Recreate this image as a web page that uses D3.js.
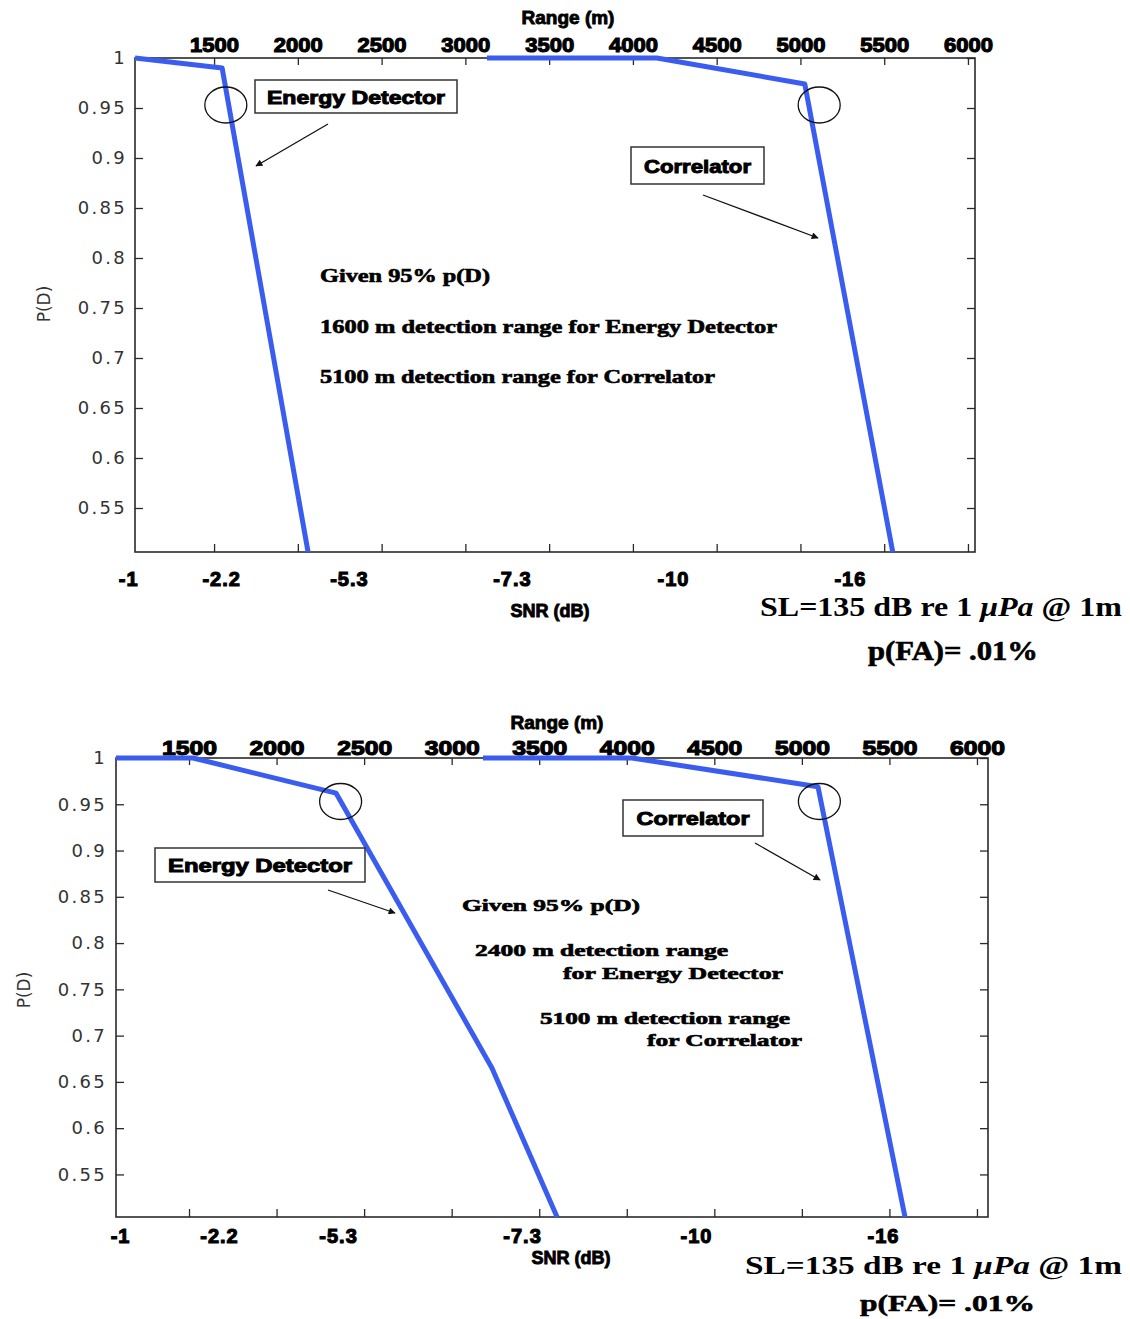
<!DOCTYPE html>
<html>
<head>
<meta charset="utf-8">
<script src="https://cdn.jsdelivr.net/npm/d3@7"></script>
<style>
  body { margin: 0; background: #fff; }
  svg { display: block; }
</style>
</head>
<body>
<svg id="chart" width="1130" height="1319"></svg>
<script>
// ---- shared tick values ----
const rangeTicks = [1500, 2000, 2500, 3000, 3500, 4000, 4500, 5000, 5500, 6000];
const pdTicks = [0.55, 0.6, 0.65, 0.7, 0.75, 0.8, 0.85, 0.9, 0.95, 1];
const snrTickLabels = ["-1", "-2.2", "-5.3", "-7.3", "-10", "-16"];

// ---- upper panel ----
// range (m) at which each SNR label applies
const p1SnrRange = [987, 1542, 2305, 3278, 4239, 5295];
const p1EnergyRange = [1028, 1548, 2061];
const p1EnergyPD = [1, 0.99, 0.506];
const p1CorrRange = [3129, 4143, 5026, 5551];
const p1CorrPD = [1, 1, 0.974, 0.506];
// detection range at 95% p(D): [energy detector, correlator]
const p1DetRange = [1600, 5100];

// ---- lower panel ----
const p2SnrRange = [1106, 1671, 2351, 3402, 4395, 5463];
const p2EnergyRange = [1083, 1523, 2340, 3230, 3602];
const p2EnergyPD = [1, 1, 0.962, 0.665, 0.504];
const p2CorrRange = [3179, 4030, 5092, 5589];
const p2CorrPD = [1, 1, 0.969, 0.504];
const p2DetRange = [2400, 5100];

const BLUE = "#3a5df0";
const AXIS = "#2a2a2a";
const HEAVY = "'Liberation Sans', Arial, sans-serif";
const SERIF = "'Liberation Serif', 'Times New Roman', serif";

const svg = d3.select("#chart");

// arrow head marker
svg.append("defs").append("marker")
  .attr("id", "arrow")
  .attr("viewBox", "0 0 10 10")
  .attr("refX", 9).attr("refY", 5)
  .attr("markerWidth", 9).attr("markerHeight", 7)
  .attr("markerUnits", "userSpaceOnUse")
  .attr("orient", "auto")
  .append("path").attr("d", "M0,0 L10,5 L0,10 Z").attr("fill", "#111");

function heavyText(sel, size, sw = 0.9) {
  return sel.attr("font-family", HEAVY).attr("font-weight", "bold")
    .attr("font-size", size).attr("fill", "#000")
    .attr("stroke", "#000").attr("stroke-width", sw);
}

function serifText(g, str, xPos, yPos, size, len) {
  const t = g.append("text").attr("x", xPos).attr("y", yPos)
    .attr("font-family", SERIF).attr("font-weight", "bold")
    .attr("font-size", size).attr("fill", "#000")
    .attr("stroke", "#000").attr("stroke-width", 0.6)
    .text(str);
  if (len) t.attr("textLength", len).attr("lengthAdjust", "spacingAndGlyphs");
  return t;
}

function drawPanel(cfg) {
  const x = d3.scaleLinear().domain(cfg.xDomain).range([cfg.left, cfg.right]);
  const y = d3.scaleLinear().domain(cfg.yDomain).range([cfg.bottom, cfg.top]);
  const g = svg.append("g");

  const styleTicks = s => {
    s.select(".domain").remove();
    s.selectAll(".tick line").attr("stroke", AXIS).attr("stroke-width", 1.3);
  };

  // P(D) axis, left with labels, right with ticks only
  g.append("g").attr("transform", `translate(${cfg.left},0)`)
    .call(d3.axisLeft(y).tickValues(pdTicks).tickSize(-8).tickPadding(cfg.yPad)
      .tickFormat(d => String(d)))
    .call(styleTicks)
    .call(s => s.selectAll("text")
      .attr("font-family", "'DejaVu Sans', sans-serif").attr("font-size", 18)
      .attr("fill", "#333").attr("letter-spacing", 2.3));

  g.append("g").attr("transform", `translate(${cfg.right},0)`)
    .call(d3.axisRight(y).tickValues(pdTicks).tickSize(-8).tickFormat(""))
    .call(styleTicks);

  // Range axis on top
  g.append("g").attr("transform", `translate(0,${cfg.top})`)
    .call(d3.axisTop(x).tickValues(rangeTicks).tickSize(-7).tickPadding(cfg.topPad)
      .tickFormat(d3.format("d")))
    .call(styleTicks)
    .call(s => heavyText(s.selectAll("text"), 20, 1.1)
      .attr("textLength", cfg.tickLen).attr("lengthAdjust", "spacingAndGlyphs"));

  // tick marks along the bottom edge
  g.append("g").attr("transform", `translate(0,${cfg.bottom})`)
    .call(d3.axisBottom(x).tickValues(rangeTicks).tickSize(-8).tickFormat(""))
    .call(styleTicks);

  // SNR labels placed at the range where each value holds
  g.append("g").attr("transform", `translate(0,${cfg.bottom})`)
    .call(d3.axisBottom(x).tickValues(cfg.snrRange).tickSize(0).tickPadding(cfg.snrPad)
      .tickFormat((d, i) => snrTickLabels[i]))
    .call(s => s.select(".domain").remove())
    .call(s => heavyText(s.selectAll("text"), 20, 1.1).attr("letter-spacing", 1));

  // plot frame
  g.append("rect")
    .attr("x", cfg.left).attr("y", cfg.top)
    .attr("width", cfg.right - cfg.left).attr("height", cfg.bottom - cfg.top)
    .attr("fill", "none").attr("stroke", AXIS).attr("stroke-width", 1.6);

  // curves
  const line = d3.line().x(d => x(d[0])).y(d => y(d[1]));
  g.append("path").datum(d3.zip(cfg.energyRange, cfg.energyPD))
    .attr("d", line).attr("fill", "none").attr("stroke", BLUE)
    .attr("stroke-width", 5).attr("stroke-linejoin", "round");
  g.append("path").datum(d3.zip(cfg.corrRange, cfg.corrPD))
    .attr("d", line).attr("fill", "none").attr("stroke", BLUE)
    .attr("stroke-width", 5).attr("stroke-linejoin", "round");

  // circles at the 95% p(D) detection ranges
  g.selectAll("ellipse.det").data(cfg.detRange).join("ellipse")
    .attr("class", "det")
    .attr("cx", (d, i) => x(d) + cfg.circleShift[i]).attr("cy", y(0.953))
    .attr("rx", 21).attr("ry", 18)
    .attr("fill", "none").attr("stroke", "#111").attr("stroke-width", 1.3);

  // axis titles
  heavyText(g.append("text"), 19)
    .attr("x", cfg.rangeTitle[0]).attr("y", cfg.rangeTitle[1])
    .attr("text-anchor", "middle").text("Range (m)");
  heavyText(g.append("text"), 18)
    .attr("x", cfg.snrTitle[0]).attr("y", cfg.snrTitle[1])
    .attr("text-anchor", "middle").text("SNR (dB)");
  g.append("text")
    .attr("transform", `translate(${cfg.pdTitle[0]},${cfg.pdTitle[1]}) rotate(-90)`)
    .attr("text-anchor", "middle")
    .attr("font-family", "'DejaVu Sans', sans-serif").attr("font-size", 17)
    .attr("fill", "#333").text("P(D)");

  // labelled boxes with arrows
  cfg.boxes.forEach(b => {
    g.append("rect").attr("x", b.x).attr("y", b.y).attr("width", b.w).attr("height", b.h)
      .attr("fill", "#fff").attr("stroke", "#333").attr("stroke-width", 1.5);
    heavyText(g.append("text"), 19, 1)
      .attr("x", b.x + b.w / 2).attr("y", b.y + b.h / 2 + 7)
      .attr("text-anchor", "middle")
      .attr("textLength", b.tl).attr("lengthAdjust", "spacingAndGlyphs")
      .text(b.label);
    g.append("line")
      .attr("x1", b.arrow[0]).attr("y1", b.arrow[1])
      .attr("x2", b.arrow[2]).attr("y2", b.arrow[3])
      .attr("stroke", "#111").attr("stroke-width", 1.3)
      .attr("marker-end", "url(#arrow)");
  });

  // notes inside the plot
  cfg.notes.forEach(n => serifText(g, n.text, n.x, n.y, n.size, n.len));

  // source level / false alarm text
  const sl = g.append("text")
    .attr("x", cfg.sl.x).attr("y", cfg.sl.y)
    .attr("font-family", SERIF).attr("font-weight", "bold")
    .attr("font-size", cfg.sl.size).attr("fill", "#000")
    .attr("textLength", cfg.sl.len).attr("lengthAdjust", "spacingAndGlyphs");
  sl.append("tspan").text(cfg.sl.pre);
  sl.append("tspan").attr("font-style", "italic").text("\u03BCPa");
  sl.append("tspan").text(" @ 1m");
  serifText(g, "p(FA)= .01%", cfg.fa.x, cfg.fa.y, cfg.fa.size, cfg.fa.len);
}

// upper panel
drawPanel({
  left: 135, right: 975, top: 58, bottom: 552,
  xDomain: [1028, 6042], yDomain: [0.506, 1],
  yPad: 8, topPad: 6, snrPad: 20, tickLen: 49,
  snrRange: p1SnrRange,
  energyRange: p1EnergyRange, energyPD: p1EnergyPD,
  corrRange: p1CorrRange, corrPD: p1CorrPD,
  detRange: p1DetRange, circleShift: [-5, 2],
  rangeTitle: [568, 24], snrTitle: [550, 617], pdTitle: [50, 304],
  boxes: [
    { x: 255, y: 80, w: 202, h: 33, label: "Energy Detector", tl: 178, arrow: [328, 124, 256, 166] },
    { x: 631, y: 147, w: 133, h: 37, label: "Correlator", tl: 107, arrow: [703, 195, 818, 238] }
  ],
  notes: [
    { text: "Given 95% p(D)", x: 320, y: 282, size: 18, len: 170 },
    { text: `${p1DetRange[0]} m detection range for Energy Detector`, x: 320, y: 333, size: 18, len: 457 },
    { text: `${p1DetRange[1]} m detection range for Correlator`, x: 320, y: 383, size: 18, len: 395 }
  ],
  sl: { x: 760, y: 616, size: 27, len: 362, pre: "SL=135 dB re 1 " },
  fa: { x: 868, y: 660, size: 27, len: 170 }
});

// lower panel
drawPanel({
  left: 116, right: 988, top: 758, bottom: 1217,
  xDomain: [1083, 6063], yDomain: [0.504, 1],
  yPad: 9, topPad: 3, snrPad: 12, tickLen: 55,
  snrRange: p2SnrRange,
  energyRange: p2EnergyRange, energyPD: p2EnergyPD,
  corrRange: p2CorrRange, corrPD: p2CorrPD,
  detRange: p2DetRange, circleShift: [-6, 0],
  rangeTitle: [557, 729], snrTitle: [571, 1264], pdTitle: [30, 990],
  boxes: [
    { x: 155, y: 848, w: 210, h: 34, label: "Energy Detector", tl: 184, arrow: [328, 890, 395, 913] },
    { x: 623, y: 800, w: 140, h: 36, label: "Correlator", tl: 113, arrow: [755, 843, 820, 880] }
  ],
  notes: [
    { text: "Given 95% p(D)", x: 462, y: 911, size: 16, len: 178 },
    { text: `${p2DetRange[0]} m detection range`, x: 475, y: 956, size: 16, len: 253 },
    { text: "for Energy Detector", x: 563, y: 979, size: 16, len: 220 },
    { text: `${p2DetRange[1]} m detection range`, x: 540, y: 1024, size: 16, len: 250 },
    { text: "for Correlator", x: 647, y: 1046, size: 16, len: 155 }
  ],
  sl: { x: 745, y: 1274, size: 25, len: 377, pre: "SL=135 dB re 1 " },
  fa: { x: 860, y: 1311, size: 24, len: 175 }
});
</script>
</body>
</html>
